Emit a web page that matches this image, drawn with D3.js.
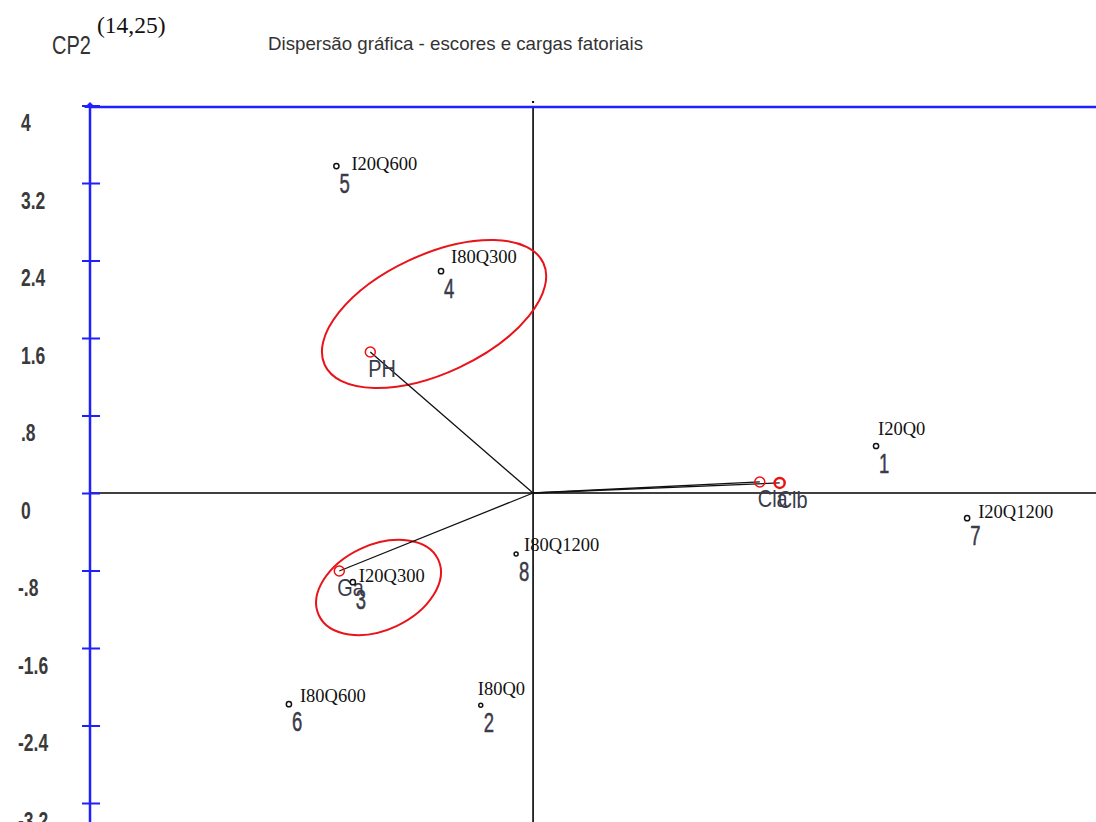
<!DOCTYPE html>
<html><head><meta charset="utf-8">
<script src="https://cdn.jsdelivr.net/npm/d3@7"></script>
<style>body{margin:0;background:#fff}svg{display:block}</style>
</head><body>
<script>
// ---- data ----
const scoreIds    = ["1","2","3","4","5","6","7","8"];
const scoreNames  = ["I20Q0","I80Q0","I20Q300","I80Q300","I20Q600","I80Q600","I20Q1200","I80Q1200"];
const scoreCP1    = [3.54, -0.54, -1.86, -0.95, -2.03, -2.52, 4.48, -0.175];
const scoreCP2    = [0.485, -2.19, -0.92, 2.29, 3.375, -2.18, -0.26, -0.63];
const loadNames   = ["PH","Ga","Cla","Clb"];
const loadCP1     = [-1.68, -2.0, 2.34, 2.545];
const loadCP2     = [1.455, -0.805, 0.114, 0.104];
const yTickValues = [4, 3.2, 2.4, 1.6, 0.8, 0, -0.8, -1.6, -2.4, -3.2];
const yTickLabels = ["4","3.2","2.4","1.6",".8","0","-.8","-1.6","-2.4","-3.2"];
// highlight ellipses (data units): cx, cy, rx, ry
const ellCX = [-1.022, -1.595];
const ellCY = [1.848, -0.975];
const ellRX = [1.245, 0.68];
const ellRY = [0.61, 0.44];
// label offsets (pixels) for sample names
const nameDX = [2, -3, 6, 10, 15, 11, 11, 8];
const nameDY = [-11, -10, 0, -8, 4, -2, 0, -3];

const W = 1096, H = 822;
const svg = d3.select("body").append("svg").attr("width", W).attr("height", H);
const x = d3.scaleLinear().domain([-4.573, 5.81]).range([90, 1096]);
const y = d3.scaleLinear().domain([-3.2, 4]).range([803, 105.5]);
const blue = "#1f1fff";
const sans = "'Liberation Sans', Arial, sans-serif";
const serif = "'Liberation Serif', 'Times New Roman', serif";
function narrow(sel, f) {
  sel.each(function() {
    const w = this.getComputedTextLength();
    d3.select(this).attr("textLength", w * f).attr("lengthAdjust", "spacingAndGlyphs");
  });
}

// header
svg.append("text").attr("x", 52).attr("y", 54).attr("font-family", sans).attr("font-size", 25)
  .attr("fill", "#333").text("CP2").call(narrow, 0.8);
svg.append("text").attr("x", 97).attr("y", 33).attr("font-family", serif).attr("font-size", 23.5)
  .attr("fill", "#111").text("(14,25)");
svg.append("text").attr("x", 268).attr("y", 50).attr("font-family", sans).attr("font-size", 18.5)
  .attr("fill", "#333").attr("textLength", 375).attr("lengthAdjust", "spacingAndGlyphs")
  .text("Dispersão gráfica - escores e cargas fatoriais");

// zero axes
svg.append("line").attr("x1", 90).attr("x2", W).attr("y1", y(0)).attr("y2", y(0))
  .attr("stroke", "#000").attr("stroke-width", 1.6);
svg.append("line").attr("x1", x(0)).attr("x2", x(0)).attr("y1", 108).attr("y2", H)
  .attr("stroke", "#000").attr("stroke-width", 1.6);
svg.append("rect").attr("x", x(0) - 1).attr("y", 101).attr("width", 2).attr("height", 2).attr("fill", "#000");

// blue top line
svg.append("line").attr("x1", 90).attr("x2", W).attr("y1", 107).attr("y2", 107)
  .attr("stroke", blue).attr("stroke-width", 2.5);
svg.append("path").attr("d", "M84,108 L90,102 L96,108 Z").attr("fill", blue);

// y axis
const yAxis = d3.axisLeft(y).tickValues(yTickValues)
  .tickFormat((d, i) => yTickLabels[i]).tickSizeOuter(0);
const ga = svg.append("g").attr("transform", "translate(90,0)").call(yAxis);
ga.select(".domain").remove();
ga.append("line").attr("x1", 0).attr("x2", 0).attr("y1", 107).attr("y2", H)
  .attr("stroke", blue).attr("stroke-width", 2.5);
ga.selectAll(".tick line").attr("x1", -8).attr("x2", 10).attr("stroke", blue).attr("stroke-width", 2);
ga.selectAll(".tick text").attr("x", (d) => d < 0 ? -72 : -69).attr("dy", 0).attr("y", 25)
  .attr("text-anchor", "start").attr("font-family", sans).attr("font-size", 23)
  .attr("font-weight", "bold").attr("fill", "#3a3a3a").call(narrow, 0.76);

// ellipses
ellCX.forEach((cx, i) => {
  const px = x(cx), py = y(ellCY[i]);
  svg.append("ellipse").attr("cx", 0).attr("cy", 0)
    .attr("rx", x(ellRX[i]) - x(0)).attr("ry", y(0) - y(ellRY[i]))
    .attr("transform", `translate(${px},${py}) rotate(-25)`)
    .attr("fill", "none").attr("stroke", "#e8141a").attr("stroke-width", 2);
});

// loading vectors
const loads = loadNames.map((n, i) => ({n, a: loadCP1[i], b: loadCP2[i]}));
svg.append("g").selectAll("line").data(loads).join("line")
  .attr("x1", x(0)).attr("y1", y(0)).attr("x2", d => x(d.a)).attr("y2", d => y(d.b))
  .attr("stroke", "#111").attr("stroke-width", 1.3);
svg.append("g").selectAll("circle").data(loads).join("circle")
  .attr("cx", d => x(d.a)).attr("cy", d => y(d.b)).attr("r", 5)
  .attr("fill", "none").attr("stroke", "#f01010").attr("stroke-width", (d, i) => i === 3 ? 2.5 : 1.5);
svg.append("g").selectAll("text").data(loads).join("text")
  .attr("x", d => x(d.a) - 2).attr("y", d => y(d.b) + 25)
  .attr("font-family", sans).attr("font-size", 24).attr("fill", "#3a3a4a")
  .text(d => d.n).call(narrow, 0.83);

// scores
const scores = scoreIds.map((id, i) => ({id, name: scoreNames[i], a: scoreCP1[i], b: scoreCP2[i], dx: nameDX[i], dy: nameDY[i]}));
const gs = svg.append("g");
gs.selectAll("circle").data(scores).join("circle")
  .attr("cx", d => x(d.a)).attr("cy", d => y(d.b)).attr("r", d => (d.id === "2" || d.id === "8") ? 2 : 2.6)
  .attr("fill", "#fff").attr("stroke", "#111").attr("stroke-width", 1.5);
gs.selectAll("text.id").data(scores).join("text").attr("class", "id")
  .attr("x", d => x(d.a) + 3).attr("y", d => y(d.b) + 27)
  .attr("font-family", sans).attr("font-size", 28).attr("fill", "#3a3a4a")
  .attr("stroke", "#3a3a4a").attr("stroke-width", 0.5)
  .text(d => d.id).call(narrow, 0.66);
gs.selectAll("text.nm").data(scores).join("text").attr("class", "nm")
  .attr("x", d => x(d.a) + d.dx).attr("y", d => y(d.b) + d.dy)
  .attr("font-family", serif).attr("font-size", 18.5).attr("fill", "#111")
  .text(d => d.name);
</script>
</body></html>
